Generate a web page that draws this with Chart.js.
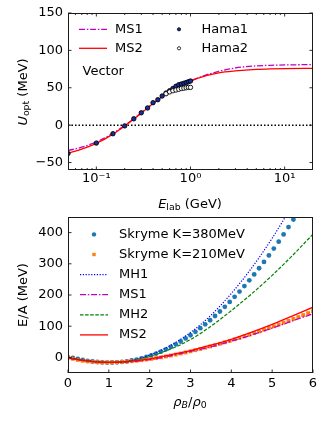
<!DOCTYPE html>
<html>
<head>
<meta charset="utf-8">
<script src="https://cdn.jsdelivr.net/npm/chart.js@4"></script>
<style>
  body { margin: 0; background: #fff; width: 327px; height: 425px; position: relative; overflow: hidden;
         font-family: "DejaVu Sans", sans-serif; }
  canvas { position: absolute; left: 0; }
  #top { top: 0; }
  #bot { top: 200px; }
  .lab { position: absolute; font-size: 13px; line-height: 1; white-space: nowrap; color: #000;
         transform: translate(-50%, -50%); }
  .rot { transform: translate(-50%, -50%) rotate(-90deg); }
  sub { font-size: 0.72em; vertical-align: -0.3em; line-height: 0; }
</style>
</head>
<body>
<canvas id="top" width="327" height="200"></canvas>
<canvas id="bot" width="327" height="225"></canvas>
<div class="lab rot" style="left:22px;top:92px"><i>U</i><sub>opt</sub> (MeV)</div>
<div class="lab" style="left:190px;top:203px"><i>E</i><sub>lab</sub> (GeV)</div>
<div class="lab rot" style="left:22px;top:295px">E/A (MeV)</div>
<div class="lab" style="left:190px;top:401px"><i>ρ<sub>B</sub></i>/<i>ρ</i><sub>0</sub></div>

<script>
/* ── top panel: vector optical potential vs E_lab ── */
const E_CURVE  = [0.05, 0.07, 0.1, 0.15, 0.2, 0.3, 0.4, 0.5, 0.7, 1.0, 1.5, 2, 3, 5, 7, 10, 20];
const MS1_U    = [-34, -29.5, -22.5, -11, -0.5, 16.5, 29, 38, 50, 59, 67.5, 72, 76.5, 79.3, 80, 80.5, 81];
const MS2_U    = [-37.5, -32, -24.5, -12, -1, 16, 29, 38, 50, 59, 66.5, 70, 72.5, 74.5, 75.2, 75.6, 76];

const E_HAMA1  = [0.05, 0.1, 0.15, 0.2, 0.25, 0.3, 0.35, 0.4, 0.45, 0.5, 0.55, 0.6, 0.65, 0.7, 0.75, 0.8, 0.85, 0.9, 0.95, 1.0];
const HAMA1    = [-38, -24, -11.5, -1, 8.5, 16.5, 23, 30, 34, 39, 43, 46, 49, 52, 54, 55, 56, 57, 58, 59];
const E_HAMA2  = [0.55, 0.6, 0.65, 0.7, 0.75, 0.8, 0.85, 0.9, 0.95, 1.0];
const HAMA2    = [42, 44.5, 46, 47, 48, 49, 49.5, 50, 50.5, 50.5];

const U_TICKS      = [-50, 0, 50, 100, 150];
const ELAB_TICKS   = [0.1, 1, 10];
const ELAB_LABELS  = ['10⁻¹', '10⁰', '10¹'];

/* ── bottom panel: E/A vs rho_B/rho_0 ── */
const RHO_SKY = [0, 0.12, 0.24, 0.36, 0.48, 0.6, 0.72, 0.84, 0.96, 1.08, 1.2, 1.32, 1.44, 1.56, 1.68, 1.8, 1.92,
                 2.04, 2.16, 2.28, 2.4, 2.52, 2.64, 2.76, 2.88, 3.0, 3.12, 3.24, 3.36, 3.48, 3.6, 3.72, 3.84, 3.96,
                 4.08, 4.2, 4.32, 4.44, 4.56, 4.68, 4.8, 4.92, 5.04, 5.16, 5.28, 5.4, 5.52, 5.64, 5.76, 5.88, 6.0];
const SKY_K380 = [0, -1.7, -5.0, -8.1, -10.9, -13.1, -14.8, -16.0, -16.5, -16.4, -15.8, -14.5, -12.6, -10.0, -6.9,
                  -3.0, 1.4, 6.6, 12.3, 18.7, 25.8, 33.5, 41.9, 51.0, 60.7, 71.0, 82.0, 93.7, 106.1, 119.1, 132.7,
                  147.1, 162.1, 177.7, 194.1, 211.0, 228.7, 247.0, 266.0, 285.7, 306.0, 327.0, 348.7, 371.0, 394.0,
                  417.7, 442.0, 467.0];
const SKY_K210 = [0, -4.4, -8.0, -10.7, -12.8, -14.3, -15.3, -15.8, -16.0, -15.9, -15.4, -14.6, -13.5, -12.3, -10.7,
                  -8.9, -6.9, -4.7, -2.3, 0.2, 3.0, 6.0, 9.1, 12.4, 15.8, 19.4, 23.1, 27.0, 31.0, 35.1, 39.4, 43.8,
                  48.4, 53.0, 57.8, 62.6, 67.6, 72.7, 77.9, 83.2, 88.7, 94.3, 99.8, 105.5, 111.4, 117.3, 123.3,
                  129.4, 135.6, 141.9, 148.1];

const RHO_CURVE = [0, 0.5, 1, 1.5, 2, 2.5, 3, 3.5, 4, 4.5, 5, 5.5, 6];
const MH1_EA    = [0, -11, -16, -11, 8, 38, 80, 135, 205, 287, 382, 490, 610];
const MS1_EA    = [-2, -12, -16, -14, -7, 5, 19, 34, 52, 72, 94, 117, 140];
const MH2_EA    = [0, -11, -16, -12, 3, 26, 57, 100, 150, 204, 263, 327, 395];
const MS2_EA    = [-2, -12, -16, -13, -5, 8, 22, 39, 58, 81, 106, 133, 161];

const EA_TICKS  = [0, 100, 200, 300, 400];
const RHO_TICKS = [0, 1, 2, 3, 4, 5, 6];

const FONT = { family: 'DejaVu Sans', size: 13 };
const FONT_CSS = '13px "DejaVu Sans"';
const pts = (xs, ys) => ys.map((y, i) => ({ x: xs[i], y }));

// inward ticks + box, matplotlib style
function drawFrame(chart, mirror, minor) {
  const { ctx, chartArea: a, scales: { x, y } } = chart;
  ctx.save();
  ctx.strokeStyle = '#1a1a1a';
  ctx.lineWidth = 1;
  ctx.strokeRect(a.left + 0.5, a.top + 0.5, a.right - a.left - 1, a.bottom - a.top - 1);
  ctx.lineWidth = 0.9;
  ctx.beginPath();
  const seg = (x1, y1, x2, y2) => { ctx.moveTo(x1, y1); ctx.lineTo(x2, y2); };
  x.ticks.forEach(t => {
    const p = x.getPixelForValue(t.value);
    seg(p, a.bottom, p, a.bottom - 3.5);
    if (mirror) seg(p, a.top, p, a.top + 3.5);
  });
  (minor || []).forEach(v => {
    const p = x.getPixelForValue(v);
    seg(p, a.bottom, p, a.bottom - 2);
    if (mirror) seg(p, a.top, p, a.top + 2);
  });
  y.ticks.forEach(t => {
    const p = y.getPixelForValue(t.value);
    seg(a.left, p, a.left + 3.5, p);
    if (mirror) seg(a.right, p, a.right - 3.5, p);
  });
  ctx.stroke();
  ctx.restore();
}

function drawKey(ctx, s, cx, cy, tx, label) {
  ctx.save();
  if (s.type === 'line') {
    ctx.strokeStyle = s.color; ctx.lineWidth = s.width; ctx.setLineDash(s.dash || []);
    ctx.beginPath(); ctx.moveTo(cx - 14, cy); ctx.lineTo(cx + 14, cy); ctx.stroke();
  } else if (s.type === 'circle') {
    ctx.beginPath(); ctx.arc(cx, cy, s.r, 0, Math.PI * 2);
    ctx.fillStyle = s.fill; ctx.fill();
    if (s.edge) { ctx.lineWidth = 0.8; ctx.strokeStyle = s.edge; ctx.stroke(); }
  } else {
    ctx.fillStyle = s.fill; ctx.fillRect(cx - s.r, cy - s.r, 2 * s.r, 2 * s.r);
  }
  ctx.setLineDash([]);
  ctx.fillStyle = '#000'; ctx.font = FONT_CSS; ctx.textBaseline = 'middle'; ctx.textAlign = 'left';
  ctx.fillText(label, tx, cy);
  ctx.restore();
}

// minor log ticks 2..9 per decade
const MINOR_LOG = [];
[0.01, 0.1, 1, 10].forEach(d => { for (let k = 2; k <= 9; k++) { const v = k * d; if (v > 0.05 && v < 20) MINOR_LOG.push(v); } });

const STY = {
  ms1: { type: 'line', color: '#bf00bf', width: 1.3, dash: [6, 1.8, 1.5, 1.8] },
  ms2: { type: 'line', color: '#ff0000', width: 1.3 },
  mh1: { type: 'line', color: '#0000ff', width: 1.2, dash: [1.2, 1.6] },
  mh2: { type: 'line', color: '#008000', width: 1.2, dash: [3.5, 1.6] },
  hama1: { type: 'circle', r: 1.6, fill: '#1a2d9c', edge: '#000' },
  hama2: { type: 'circle', r: 1.6, fill: '#fff', edge: '#000' },
  k380: { type: 'circle', r: 2.2, fill: '#1f77b4' },
  k210: { type: 'rect', r: 1.7, fill: '#ff7f0e' }
};

const topDeco = {
  id: 'topDeco',
  afterDraw(chart) {
    drawFrame(chart, true, MINOR_LOG);
    const ctx = chart.ctx;
    drawKey(ctx, STY.ms1, 93, 29.3, 115, 'MS1');
    drawKey(ctx, STY.ms2, 93, 48.3, 115, 'MS2');
    drawKey(ctx, STY.hama1, 179, 29.3, 201.5, 'Hama1');
    drawKey(ctx, STY.hama2, 179, 48.3, 201.5, 'Hama2');
    ctx.save();
    ctx.font = FONT_CSS; ctx.fillStyle = '#000'; ctx.textBaseline = 'middle';
    ctx.fillText('Vector', 82.5, 72);
    ctx.restore();
  }
};

const botDeco = {
  id: 'botDeco',
  afterDraw(chart) {
    drawFrame(chart, false, null);
    const ctx = chart.ctx;
    const rows = [
      [STY.k380, 'Skryme K=380MeV'], [STY.k210, 'Skryme K=210MeV'], [STY.mh1, 'MH1'],
      [STY.ms1, 'MS1'], [STY.mh2, 'MH2'], [STY.ms2, 'MS2']
    ];
    rows.forEach(([s, l], i) => drawKey(ctx, s, 94, 34.4 + i * 20.1, 119, l));
  }
};

const axisCommon = {
  grid: { display: false, drawTicks: false },
  border: { display: false },
};

new Chart(document.getElementById('top'), {
  type: 'scatter',
  data: {
    datasets: [
      { label: 'Hama2', data: pts(E_HAMA2, HAMA2), pointRadius: 2.2, pointBackgroundColor: '#fff',
        pointBorderColor: '#000', pointBorderWidth: 0.9, order: 0, clip: 0 },
      { label: 'Hama1', data: pts(E_HAMA1, HAMA1), pointRadius: 2.2, pointBackgroundColor: '#1a2d9c',
        pointBorderColor: '#000', pointBorderWidth: 0.9, order: 1, clip: 0 },
      { label: 'MS2', data: pts(E_CURVE, MS2_U), showLine: true, pointRadius: 0, borderColor: STY.ms2.color,
        borderWidth: 1.3, cubicInterpolationMode: 'monotone', order: 2, clip: 0 },
      { label: 'MS1', data: pts(E_CURVE, MS1_U), showLine: true, pointRadius: 0, borderColor: STY.ms1.color,
        borderWidth: 1.3, borderDash: STY.ms1.dash, cubicInterpolationMode: 'monotone', order: 3, clip: 0 },
      { label: 'zero', data: [{ x: 0.05, y: 0 }, { x: 20, y: 0 }], showLine: true, pointRadius: 0,
        borderColor: '#000', borderWidth: 1.5, borderDash: [1.5, 2], order: 4, clip: 0 }
    ]
  },
  options: {
    responsive: false, animation: false, events: [],
    layout: { padding: { top: 13, right: 14, left: 0, bottom: 0 } },
    plugins: { legend: { display: false }, tooltip: { enabled: false } },
    scales: {
      x: {
        ...axisCommon, type: 'logarithmic', min: 0.05, max: 20,
        afterBuildTicks: s => { s.ticks = ELAB_TICKS.map(v => ({ value: v })); },
        afterFit: s => { s.height = 30; },
        ticks: { font: FONT, color: '#000', padding: 1, maxRotation: 0, autoSkip: false,
                 callback: (v, i) => ELAB_LABELS[i] }
      },
      y: {
        ...axisCommon, min: -60, max: 150,
        afterBuildTicks: s => { s.ticks = U_TICKS.map(v => ({ value: v })); },
        afterFit: s => { s.width = 68; },
        ticks: { font: FONT, color: '#000', padding: 5, callback: v => (v < 0 ? '\u2212' + Math.abs(v) : v) }
      }
    }
  },
  plugins: [topDeco]
});

new Chart(document.getElementById('bot'), {
  type: 'scatter',
  data: {
    datasets: [
      { label: 'MS2', data: pts(RHO_CURVE, MS2_EA), showLine: true, pointRadius: 0, borderColor: STY.ms2.color,
        borderWidth: 1.3, cubicInterpolationMode: 'monotone', order: 0, clip: 0 },
      { label: 'MH2', data: pts(RHO_CURVE, MH2_EA), showLine: true, pointRadius: 0, borderColor: STY.mh2.color,
        borderWidth: 1.2, borderDash: STY.mh2.dash, cubicInterpolationMode: 'monotone', order: 1, clip: 0 },
      { label: 'MS1', data: pts(RHO_CURVE, MS1_EA), showLine: true, pointRadius: 0, borderColor: STY.ms1.color,
        borderWidth: 1.3, borderDash: STY.ms1.dash, cubicInterpolationMode: 'monotone', order: 2, clip: 0 },
      { label: 'MH1', data: pts(RHO_CURVE, MH1_EA), showLine: true, pointRadius: 0, borderColor: STY.mh1.color,
        borderWidth: 1.2, borderDash: STY.mh1.dash, cubicInterpolationMode: 'monotone', order: 3, clip: 0 },
      { label: 'Skryme K=210MeV', data: pts(RHO_SKY, SKY_K210), pointStyle: 'rect', pointRadius: 2.7,
        pointBackgroundColor: '#ff7f0e', pointBorderWidth: 0, order: 4, clip: 0 },
      { label: 'Skryme K=380MeV', data: pts(RHO_SKY, SKY_K380), pointRadius: 2.4,
        pointBackgroundColor: '#1f77b4', pointBorderWidth: 0, order: 5, clip: 0 }
    ]
  },
  options: {
    responsive: false, animation: false, events: [],
    layout: { padding: { top: 17, right: 14, left: 0, bottom: 0 } },
    plugins: { legend: { display: false }, tooltip: { enabled: false } },
    scales: {
      x: {
        ...axisCommon, type: 'linear', min: 0, max: 6,
        afterBuildTicks: s => { s.ticks = RHO_TICKS.map(v => ({ value: v })); },
        afterFit: s => { s.height = 52; },
        ticks: { font: FONT, color: '#000', padding: 3, maxRotation: 0, autoSkip: false }
      },
      y: {
        ...axisCommon, min: -50, max: 450,
        afterBuildTicks: s => { s.ticks = EA_TICKS.map(v => ({ value: v })); },
        afterFit: s => { s.width = 68; },
        ticks: { font: FONT, color: '#000', padding: 5 }
      }
    }
  },
  plugins: [botDeco]
});
</script>
</body>
</html>
